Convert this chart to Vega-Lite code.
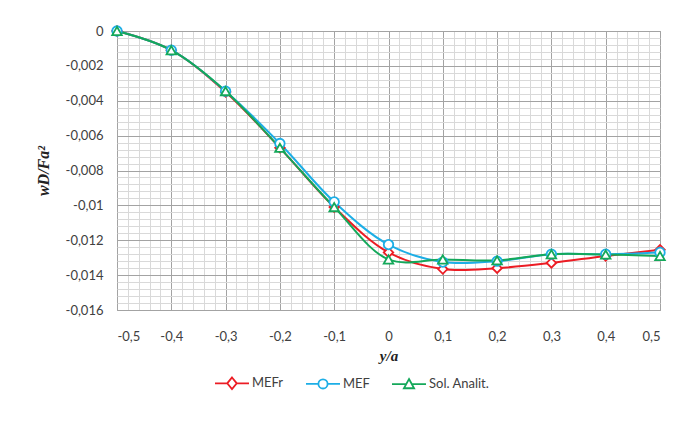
{
  "$schema": "https://vega.github.io/schema/vega-lite/v6.json",
  "width": 543,
  "height": 279,
  "autosize": "none",
  "padding": {"left": 117, "top": 31, "right": 19, "bottom": 119},
  "background": "white",
  "config": {
    "view": {"stroke": "#9a9a9a", "strokeWidth": 1},
    "axis": {"domain": false, "ticks": false, "tickSize": 0, "labelFont": "Lato", "labelFontSize": 13, "labelColor": "#404040", "labelOverlap": false, "labelBound": false, "gridWidth": 1}
  },
  "data": {
    "values": [
      {"x": -0.5, "v": 0, "series": "MEFr"},
      {"x": -0.4, "v": -0.0011, "series": "MEFr"},
      {"x": -0.3, "v": -0.0035, "series": "MEFr"},
      {"x": -0.2, "v": -0.0067, "series": "MEFr"},
      {"x": -0.1, "v": -0.0101, "series": "MEFr"},
      {"x": 0, "v": -0.0127, "series": "MEFr"},
      {"x": 0.1, "v": -0.01365, "series": "MEFr"},
      {"x": 0.2, "v": -0.0136, "series": "MEFr"},
      {"x": 0.3, "v": -0.0133, "series": "MEFr"},
      {"x": 0.4, "v": -0.0129, "series": "MEFr"},
      {"x": 0.5, "v": -0.01255, "series": "MEFr"},
      {"x": -0.5, "v": 0, "series": "MEF"},
      {"x": -0.4, "v": -0.0011, "series": "MEF"},
      {"x": -0.3, "v": -0.00345, "series": "MEF"},
      {"x": -0.2, "v": -0.00645, "series": "MEF"},
      {"x": -0.1, "v": -0.0098, "series": "MEF"},
      {"x": 0, "v": -0.01225, "series": "MEF"},
      {"x": 0.1, "v": -0.01325, "series": "MEF"},
      {"x": 0.2, "v": -0.0132, "series": "MEF"},
      {"x": 0.3, "v": -0.0128, "series": "MEF"},
      {"x": 0.4, "v": -0.0128, "series": "MEF"},
      {"x": 0.5, "v": -0.0127, "series": "MEF"},
      {"x": -0.5, "v": 0, "series": "Sol. Analit."},
      {"x": -0.4, "v": -0.0011, "series": "Sol. Analit."},
      {"x": -0.3, "v": -0.00345, "series": "Sol. Analit."},
      {"x": -0.2, "v": -0.0067, "series": "Sol. Analit."},
      {"x": -0.1, "v": -0.0101, "series": "Sol. Analit."},
      {"x": 0, "v": -0.0131, "series": "Sol. Analit."},
      {"x": 0.1, "v": -0.0131, "series": "Sol. Analit."},
      {"x": 0.2, "v": -0.01315, "series": "Sol. Analit."},
      {"x": 0.3, "v": -0.0128, "series": "Sol. Analit."},
      {"x": 0.4, "v": -0.01282, "series": "Sol. Analit."},
      {"x": 0.5, "v": -0.0129, "series": "Sol. Analit."}
    ]
  },
  "encoding": {
    "x": {
      "field": "x", "type": "quantitative",
      "scale": {"domain": [-0.5, 0.5], "nice": false, "zero": false},
      "axis": {
        "title": "y/a",
        "titleFont": "Liberation Serif", "titleFontStyle": "italic", "titleFontWeight": "bold", "titleFontSize": 15, "titleColor": "#222222",
        "titleX": 271.5, "titleY": 45, "titleBaseline": "middle", "titleAlign": "center",
        "values": [-0.5,-0.48,-0.46,-0.44,-0.42,-0.4,-0.38,-0.36,-0.34,-0.32,-0.3,-0.28,-0.26,-0.24,-0.22,-0.2,-0.18,-0.16,-0.14,-0.12,-0.1,-0.08,-0.06,-0.04,-0.02,0,0.02,0.04,0.06,0.08,0.1,0.12,0.14,0.16,0.18,0.2,0.22,0.24,0.26,0.28,0.3,0.32,0.34,0.36,0.38,0.4,0.42,0.44,0.46,0.48,0.5],
        "labelExpr": "abs(datum.value*10 - round(datum.value*10)) < 1e-6 ? replace(toString(datum.value), '.', ',') : ''",
        "labelPadding": 20,
        "gridColor": {"condition": {"test": "abs(datum.value*10 - round(datum.value*10)) < 1e-6", "value": "#a3a3a3"}, "value": "#d9d9d9"}
      }
    },
    "y": {
      "field": "v", "type": "quantitative",
      "scale": {"domain": [-0.016, 0], "nice": false, "zero": false},
      "axis": {
        "title": "wD/Fa²",
        "titleFont": "Liberation Serif", "titleFontStyle": "italic", "titleFontWeight": "bold", "titleFontSize": 16, "titleColor": "#222222",
        "titleX": -74, "titleY": 139.5, "titleAngle": -90, "titleBaseline": "middle", "titleAlign": "center",
        "values": [0,-0.0004,-0.0008,-0.0012,-0.0016,-0.002,-0.0024,-0.0028,-0.0032,-0.0036,-0.004,-0.0044,-0.0048,-0.0052,-0.0056,-0.006,-0.0064,-0.0068,-0.0072,-0.0076,-0.008,-0.0084,-0.0088,-0.0092,-0.0096,-0.01,-0.0104,-0.0108,-0.0112,-0.0116,-0.012,-0.0124,-0.0128,-0.0132,-0.0136,-0.014,-0.0144,-0.0148,-0.0152,-0.0156,-0.016],
        "labelExpr": "abs(datum.value/0.002 - round(datum.value/0.002)) < 1e-6 ? replace(toString(datum.value), '.', ',') : ''",
        "labelPadding": 14,
        "gridColor": {"condition": {"test": "abs(datum.value/0.002 - round(datum.value/0.002)) < 1e-6", "value": "#a3a3a3"}, "value": "#d9d9d9"}
      }
    }
  },
  "resolve": {"scale": {"color": "independent", "shape": "independent"}},
  "layer": [
    {
      "mark": {"type": "line", "interpolate": "catmull-rom", "strokeWidth": 2},
      "encoding": {
        "color": {
          "field": "series", "type": "nominal",
          "scale": {"domain": ["MEFr", "MEF", "Sol. Analit."], "range": ["#ec1c24", "#1daee6", "#14a85a"]},
          "legend": null
        }
      }
    },
    {
      "mark": {"type": "point", "filled": false, "fill": "white", "size": 90, "strokeWidth": 1.8, "opacity": 1},
      "encoding": {
        "color": {
          "field": "series", "type": "nominal",
          "scale": {"domain": ["MEFr", "MEF", "Sol. Analit."], "range": ["#ec1c24", "#1daee6", "#14a85a"]},
          "legend": null
        },
        "shape": {
          "field": "series", "type": "nominal",
          "scale": {"domain": ["MEFr", "MEF", "Sol. Analit."], "range": ["diamond", "circle", "triangle-up"]},
          "legend": null
        }
      }
    },
    {
      "transform": [{"filter": "false"}],
      "mark": {"type": "point", "filled": false, "fill": "white", "strokeWidth": 1.8, "opacity": 1},
      "encoding": {
        "color": {
          "field": "series", "type": "nominal",
          "scale": {"domain": ["MEFr", "MEF", "Sol. Analit."], "range": ["#ec1c24", "#1daee6", "#14a85a"]},
          "legend": {
            "orient": "none", "legendX": 97, "legendY": 334, "direction": "horizontal", "title": null,
            "symbolSize": 1156, "symbolStrokeWidth": 1.8, "symbolFillColor": "white",
            "labelFont": "Lato", "labelFontSize": 13, "labelColor": "#404040", "labelOffset": 2, "columnPadding": 18
          }
        },
        "shape": {
          "field": "series", "type": "nominal",
          "scale": {
            "domain": ["MEFr", "MEF", "Sol. Analit."],
            "range": [
              "M-1,0L-0.28,0M0.28,0L1,0M0,-0.34L0.28,0L0,0.34L-0.28,0Z",
              "M-1,0L-0.27,0M0.27,0L1,0M0.27,0A0.27,0.27 0 1 1 -0.27,0A0.27,0.27 0 1 1 0.27,0Z",
              "M-1,0L-0.167,0M0.167,0L1,0M0,-0.3L0.3,0.24L-0.3,0.24Z"
            ]
          },
          "legend": {
            "orient": "none", "legendX": 97, "legendY": 334, "direction": "horizontal", "title": null,
            "symbolSize": 1156, "symbolStrokeWidth": 1.8, "symbolFillColor": "white",
            "labelFont": "Lato", "labelFontSize": 13, "labelColor": "#404040", "labelOffset": 2, "columnPadding": 18
          }
        }
      }
    }
  ]
}
